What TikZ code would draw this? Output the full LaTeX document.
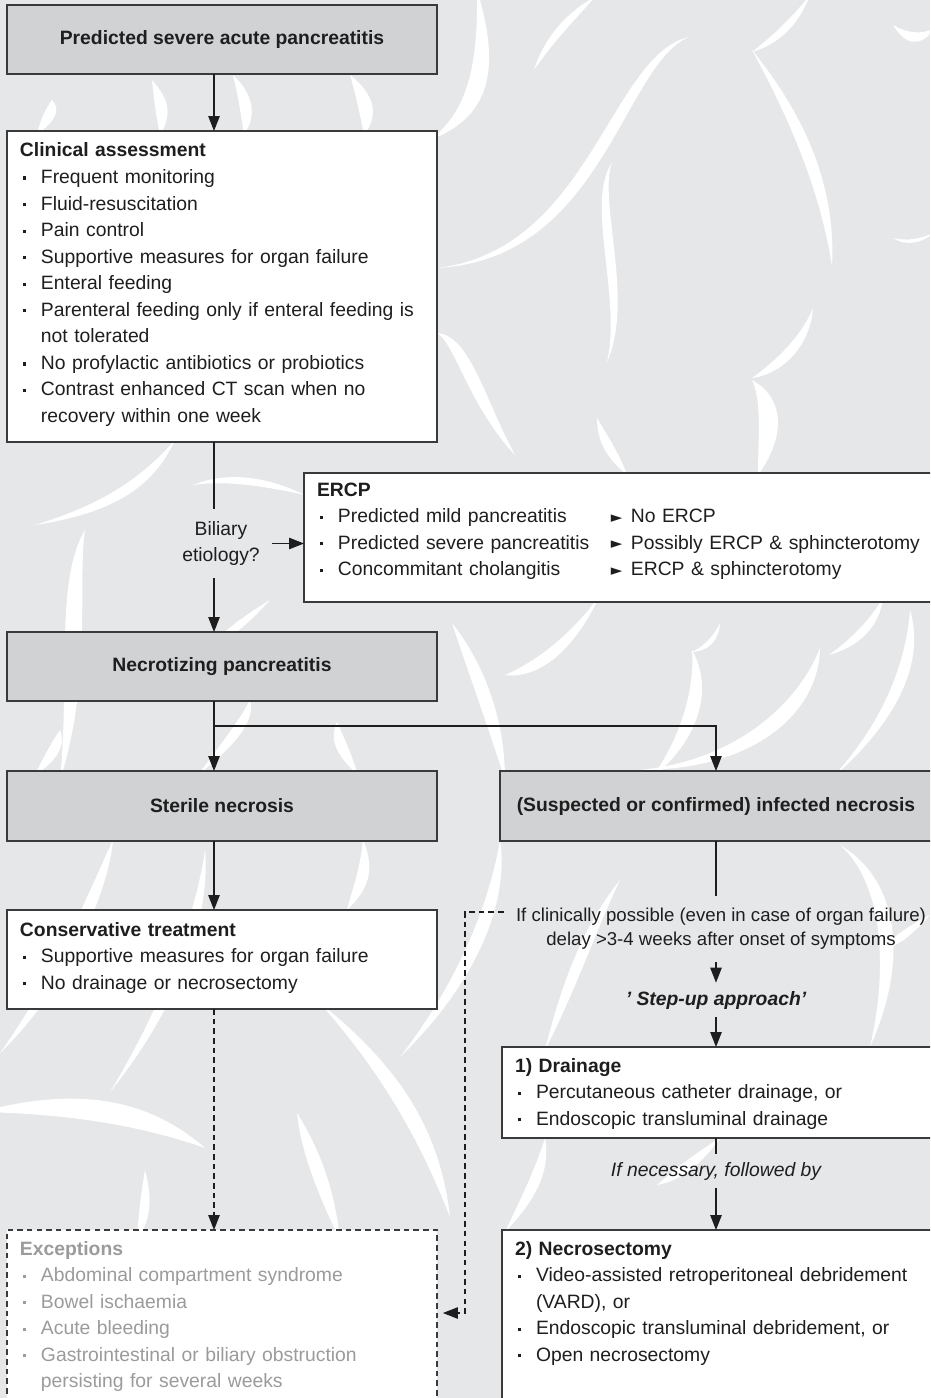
\documentclass[tikz,border=0pt]{standalone}
\usepackage{fontspec}
\setmainfont{Liberation Sans}
\newfontfamily\symfont{DejaVu Sans}
\usepackage{tikz}
\usetikzlibrary{arrows.meta}
\definecolor{paper}{HTML}{E6E7E9}
\definecolor{boxgrey}{HTML}{D1D2D4}
\definecolor{frame}{HTML}{3A3A3A}
\definecolor{ink}{HTML}{1E1E1E}
\definecolor{muted}{HTML}{9B9B9B}
\newcommand{\bul}{\makebox[0.42cm][l]{\hspace{0.06cm}\raisebox{2.1pt}{\rule{1.9pt}{1.9pt}}}}
\newcommand{\cont}{\hspace*{0.42cm}}
\newcommand{\tri}{\makebox[0.4cm][l]{\raisebox{0.2pt}{\symfont\fontsize{8.5pt}{8.5pt}\selectfont ►}}}
\tikzset{
  font=\fontsize{11pt}{15.1pt}\selectfont,
  text=ink,
  swoosh/.style={fill=white},
  head/.style={draw=frame,fill=boxgrey,line width=.7pt,minimum width=8.6cm,minimum height=1.38cm,outer sep=0pt,font=\fontsize{11pt}{15.1pt}\selectfont\bfseries},
  listbox/.style n args={3}{draw=frame,fill=white,line width=.7pt,anchor=base west,outer sep=0pt,inner xsep=.26cm,inner ysep=0pt,align=left,text width=#1,text height=#2,text depth=#3},
  note/.style={align=center,inner sep=.24cm},
  link/.style={line width=.6pt,draw=ink},
  arr/.style={link,-{Triangle[length=.3cm,width=.23cm]}},
  dashline/.style={dash pattern=on 3.2pt off 2.3pt}
}
\begin{document}
\begin{tikzpicture}[x=0.02cm,y=-0.02cm]
\useasboundingbox (0,0) rectangle (930,1398);
\clip (0,0) rectangle (930,1398);
\fill[paper] (0,0) rectangle (930,1398);
\foreach \xa/\ya/\xb/\yb/\xc/\yc/\xd/\yd/\dx/\dy in {
  477/-10/478/60/470/110/430/140/14/4,
  534/70/545/35/570/10/595/-3/6/3,
  689/37/610/55/590/250/437/268/8/6,
  612/163/585/200/622/300/607/362/8/0,
  810/-5/790/20/770/38/752/52/5/4,
  752/50/790/120/820/190/832/266/10/-2,
  893/25/905/32/920/36/935/28/0/8,
  893/238/905/241/920/240/935/232/0/3,
  437/333/470/335/485/400/515/455/-10/4,
  597/418/610/440/620/455/627/475/-8/2,
  813/308/800/340/770/365/752/378/6/6,
  752/380/762/400/758/440/758/475/16/0,
  452/623/485/665/505/720/505/780/-12/0,
  600/595/575/630/540/660/505/675/0/12,
  720/623/712/640/700/648/692/652/4/2,
  692/650/695/690/680/740/650/780/12/0,
  820/648/800/700/740/760/640/770/12/6,
  883/598/870/620/850/640/829/655/6/4,
  910/610/925/660/900/720/830/780/-12/4,
  175/440/140/480/100/505/35/525/8/5,
  193/485/230/470/270/478/305/495/0/6,
  85/530/55/580/70/680/60/780/14/0,
  270/600/245/615/225/630/205/650/0/8,
  250/700/240/720/220/745/198/775/10/0,
  337/722/345/740/352/755/358/775/-10/0,
  60/730/50/745/42/760/35/775/10/0,
  113/840/93/883/53/980/0/1053/10/4,
  205/850/195/920/160/1010/110/1092/10/0,
  363/840/360/870/352/890/347/910/10/0,
  -20/1112/80/1085/150/1100/205/1148/0/18,
  320/1003/400/1067/440/1130/450/1217/-15/0,
  297/1113/320/1150/335/1190/340/1240/-12/0,
  145/1170/140/1200/138/1220/137/1240/8/0,
  500/840/490/900/460/980/400/1057/12/0,
  37/135/40/120/45/110/52/100/10/0,
  160/135/156/115/154/100/152/80/10/0,
  233/75/238/95/241/115/244/135/10/0,
  350/75/356/95/360/115/364/135/12/0,
  840/845/880/880/890/960/870/1047/12/0,
  620/880/580/930/560/990/545/1050/10/0,
  930/915/910/925/895/935/880/950/0/8,
  657/1185/680/1165/700/1150/720/1138/0/10,
  545/1138/535/1170/520/1200/505/1232/10/0}
  \fill[swoosh] (\xa,\ya) .. controls (\xb,\yb) and (\xc,\yc) .. (\xd,\yd)
    .. controls (\xc+1.6*\dx,\yc+1.6*\dy) and (\xb+1.6*\dx,\yb+1.6*\dy) .. (\xa,\ya);

\coordinate (lane) at (214,0);
\coordinate (lane2) at (716,0);
\coordinate (split) at (214,726);
\coordinate (fork) at (465,912);
\coordinate (bend) at (465,1313);

\node[head] (severe) at (222,39.5) {Predicted severe acute pancreatitis};
\node[listbox={8.08cm}{0.52cm}{5.7cm}] (assess) at (7,157) {{\bfseries Clinical assessment}\\
\bul Frequent monitoring\\
\bul Fluid-resuscitation\\
\bul Pain control\\
\bul Supportive measures for organ failure\\
\bul Enteral feeding\\
\bul Parenteral feeding only if enteral feeding is\\
\cont not tolerated\\
\bul No profylactic antibiotics or probiotics\\
\bul Contrast enhanced CT scan when no\\
\cont recovery within one week};
\node[note] (biliary) at (221,543.5) {Biliary\\etiology?};
\node[listbox={12.1cm}{0.46cm}{2.12cm}] (ercp) at (304,496) {{\bfseries ERCP}\\
\bul\makebox[5.46cm][l]{Predicted mild pancreatitis}\tri No ERCP\\
\bul\makebox[5.46cm][l]{Predicted severe pancreatitis}\tri Possibly ERCP \& sphincterotomy\\
\bul\makebox[5.46cm][l]{Concommitant cholangitis}\tri ERCP \& sphincterotomy};
\node[head] (necro) at (222,666.5) {Necrotizing pancreatitis};
\node[head,minimum height=1.4cm] (sterile) at (222,806) {Sterile necrosis};
\node[head,minimum width=8.64cm,minimum height=1.4cm] (infected) at (716,806) {(Suspected or confirmed) infected necrosis};
\node[listbox={8.08cm}{0.52cm}{1.46cm}] (conserv) at (7,936) {{\bfseries Conservative treatment}\\
\bul Supportive measures for organ failure\\
\bul No drainage or necrosectomy};
\node[listbox={8.08cm}{0.5cm}{3.3cm},dashline,text=muted] (except) at (7,1255) {{\bfseries Exceptions}\\
\bul Abdominal compartment syndrome\\
\bul Bowel ischaemia\\
\bul Acute bleeding\\
\bul Gastrointestinal or biliary obstruction\\
\cont persisting for several weeks};
\node[note,font=\fontsize{10.6pt}{13.6pt}\selectfont] (delay) at (721,929) {If clinically possible (even in case of organ failure)\\delay >3-4 weeks after onset of symptoms};
\node[note,inner sep=.16cm,font=\fontsize{11pt}{15.1pt}\selectfont\bfseries\itshape] (stepup) at (716,1000) {' Step-up approach'};
\node[listbox={8.18cm}{0.5cm}{1.32cm}] (drain) at (502,1072) {{\bfseries 1) Drainage}\\
\bul Percutaneous catheter drainage, or\\
\bul Endoscopic transluminal drainage};
\node[note,inner sep=.16cm,font=\fontsize{11pt}{15.1pt}\selectfont\itshape] (followed) at (716,1171) {If necessary, followed by};
\node[listbox={8.18cm}{0.5cm}{3.3cm}] (necsect) at (502,1255) {{\bfseries 2) Necrosectomy}\\
\bul Video-assisted retroperitoneal debridement\\
\cont (VARD), or\\
\bul Endoscopic transluminal debridement, or\\
\bul Open necrosectomy};

\draw[arr] (severe.south -| lane) -- (assess.north -| lane);
\draw[link] (assess.south -| lane) -- (biliary.north -| lane);
\draw[arr] (biliary.south -| lane) -- (necro.north -| lane);
\draw[arr] (biliary.east) -- (biliary.east -| ercp.west);
\draw[link] (necro.south -| lane) -- (split);
\draw[arr] (split) -- (sterile.north -| lane);
\draw[arr] (split) -| (infected.north -| lane2);
\draw[arr] (sterile.south -| lane) -- (conserv.north -| lane);
\draw[arr,dashline] (conserv.south -| lane) -- (except.north -| lane);
\draw[link] (infected.south -| lane2) -- (delay.north -| lane2);
\draw[arr] (delay.south -| lane2) -- (stepup.north -| lane2);
\draw[arr] (stepup.south -| lane2) -- (drain.north -| lane2);
\draw[link] (drain.south -| lane2) -- (followed.north -| lane2);
\draw[arr] (followed.south -| lane2) -- (necsect.north -| lane2);
\draw[arr,dashline,shorten >=.12cm] (fork -| delay.west) -- (fork) |- (bend -| except.east);
\end{tikzpicture}
\end{document}
